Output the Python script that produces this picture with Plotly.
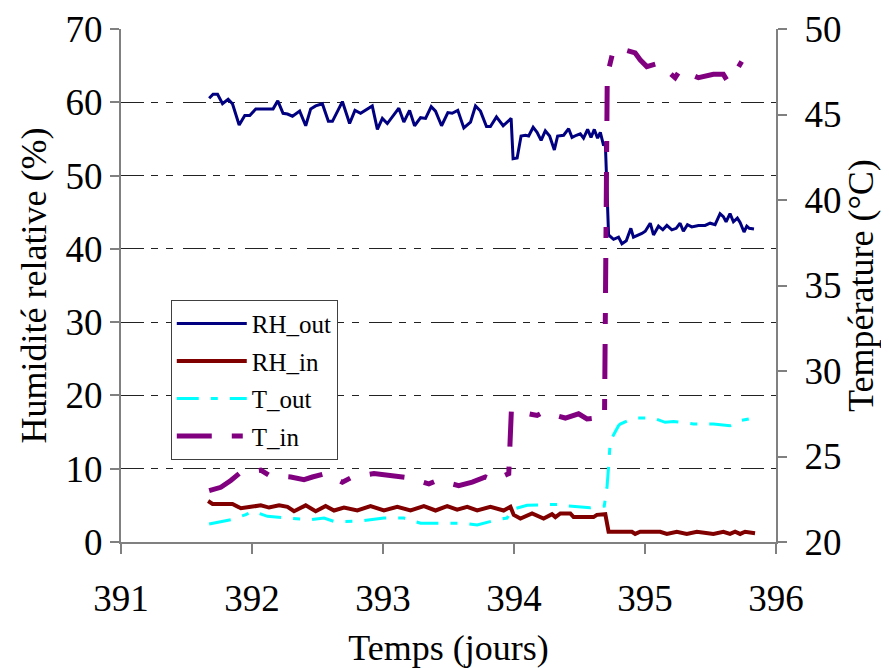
import plotly.graph_objects as go

# ---------------- data ----------------
t_rh_out = [391.673, 391.703, 391.737, 391.775, 391.818, 391.851, 391.902, 391.945, 391.983,
            392.029, 392.161, 392.197, 392.237, 392.271, 392.309, 392.364, 392.410, 392.448,
            392.486, 392.537, 392.583, 392.614, 392.690, 392.745, 392.786, 392.829, 392.918,
            392.957, 392.995, 393.033, 393.121, 393.159, 393.203, 393.241, 393.287, 393.325,
            393.368, 393.401, 393.447, 393.495, 393.528, 393.571, 393.617, 393.668, 393.706,
            393.744, 393.790, 393.820, 393.866, 393.917, 393.978, 393.993, 394.024, 394.054,
            394.087, 394.112, 394.146, 394.176, 394.207, 394.239, 394.272, 394.308, 394.333,
            394.379, 394.417, 394.443, 394.476, 394.506, 394.531, 394.562, 394.588, 394.613,
            394.638, 394.659, 394.684, 394.697, 394.722, 394.760, 394.798, 394.824, 394.857,
            394.892, 394.912, 394.943, 394.976, 395.002, 395.040, 395.065, 395.103, 395.136,
            395.167, 395.205, 395.238, 395.268, 395.293, 395.324, 395.357, 395.408, 395.459,
            395.497, 395.535, 395.573, 395.598, 395.619, 395.649, 395.675, 395.705, 395.726,
            395.756, 395.777, 395.796, 395.832]
rh_out = [60.55, 61.1, 61.1, 59.8, 60.4, 59.8, 56.9, 58.2, 58.2,
          59.1, 59.1, 60.2, 58.5, 58.4, 58.1, 58.8, 56.8, 59.1,
          59.5, 59.8, 57.4, 57.4, 60.1, 57.1, 58.9, 58.5, 59.5,
          56.3, 57.8, 57.1, 59.2, 57.3, 58.9, 56.8, 57.9, 57.8,
          59.4, 58.8, 56.8, 58.6, 58.5, 58.9, 56.5, 57.3, 59.5,
          58.8, 56.7, 56.7, 58.0, 56.8, 57.8, 52.3, 52.4, 55.4,
          55.5, 55.4, 56.6, 55.9, 54.8, 56.1, 55.4, 53.5, 55.4,
          55.5, 56.4, 55.2, 55.5, 55.7, 55.1, 56.3, 55.2, 56.3,
          55.1, 55.9, 54.1, 54.5, 41.9, 41.3, 41.6, 40.7, 41.1,
          42.8, 41.6, 41.8, 42.1, 42.4, 43.5, 41.9, 43.1, 42.6,
          43.2, 42.6, 42.8, 43.5, 42.4, 43.3, 43.0, 43.2, 43.2,
          43.5, 43.3, 44.8, 44.4, 43.7, 44.8, 43.7, 44.2, 43.6,
          42.3, 43.1, 42.8, 42.7]

t_rh_in = [391.665, 391.699, 391.851, 391.915, 391.991, 392.067, 392.130, 392.207, 392.271,
           392.321, 392.410, 392.486, 392.562, 392.626, 392.702, 392.804, 392.905, 393.007,
           393.109, 393.210, 393.312, 393.401, 393.490, 393.566, 393.643, 393.719, 393.820,
           393.921, 393.973, 393.998, 394.049, 394.138, 394.226, 394.290, 394.316, 394.354,
           394.430, 394.455, 394.607, 394.633, 394.697, 394.722, 394.900, 394.925, 394.963,
           395.116, 395.167, 395.243, 395.319, 395.396, 395.522, 395.598, 395.649, 395.688,
           395.726, 395.764, 395.840]
rh_in = [5.6, 5.2, 5.2, 4.6, 4.8, 5.0, 4.7, 5.0, 4.8,
         4.2, 5.0, 4.2, 4.9, 4.3, 4.7, 4.3, 4.9, 4.3,
         4.8, 4.3, 4.9, 4.3, 4.9, 4.4, 4.8, 4.3, 4.8,
         4.3, 4.8, 3.7, 3.2, 3.9, 3.2, 3.8, 3.4, 3.9,
         3.9, 3.4, 3.4, 3.7, 3.8, 1.4, 1.4, 1.1, 1.4,
         1.4, 1.1, 1.4, 1.1, 1.4, 1.1, 1.4, 1.1, 1.4,
         1.1, 1.4, 1.2]

t_t_out = [391.673, 391.838, 391.953, 392.004, 392.118, 392.283, 392.397, 392.448, 392.550,
           392.626, 392.715, 392.854, 393.007, 393.159, 393.287, 393.414, 393.617, 393.719,
           393.871, 393.947, 393.985, 394.100, 394.252, 394.341, 394.417, 394.582, 394.689,
           394.710, 394.722, 394.735, 394.798, 394.811, 394.912, 395.065, 395.154, 395.217,
           395.370, 395.522, 395.649, 395.726, 395.827]
t_out = [21.05, 21.3, 21.6, 21.8, 21.5, 21.4, 21.3, 21.3, 21.4,
         21.2, 21.2, 21.25, 21.4, 21.4, 21.1, 21.1, 21.1, 21.0,
         21.3, 21.4, 21.9, 22.15, 22.2, 22.2, 22.1, 22.0, 22.1,
         23.2, 24.4, 25.9, 26.8, 26.9, 27.25, 27.25, 27.0, 27.05,
         26.9, 26.9, 26.8, 27.1, 27.25]

t_t_in = [391.673, 391.762, 391.838, 391.902, 392.067, 392.130, 392.296, 392.397, 392.461,
          392.562, 392.690, 392.766, 392.931, 393.033, 393.197, 393.350, 393.414, 393.578,
          393.681, 393.782, 393.845, 393.960, 393.973, 393.980, 394.176, 394.226, 394.392,
          394.493, 394.557, 394.646, 394.691, 394.712, 394.750, 394.786, 394.925, 394.963,
          395.014, 395.103, 395.230, 395.268, 395.408, 395.522, 395.598, 395.630, 395.700,
          395.738]
t_in = [23.0, 23.2, 23.6, 24.0, 24.2, 23.9, 23.8, 23.65, 23.8,
        24.0, 23.5, 23.8, 24.0, 23.9, 23.75, 23.4, 23.6, 23.3,
        23.5, 23.8, 23.6, 24.0, 25.7, 27.7, 27.4, 27.6, 27.25,
        27.5, 27.2, 27.3, 27.3, 47.3, 48.5, 48.9, 48.6, 48.2,
        47.8, 48.0, 47.15, 47.6, 47.15, 47.35, 47.35, 46.95, 47.6,
        48.1]

x_ticks = [391, 392, 393, 394, 395, 396]
rh_ticks = [0, 10, 20, 30, 40, 50, 60, 70]
temp_ticks = [20, 25, 30, 35, 40, 45, 50]

FONT = "Liberation Serif, Times New Roman, serif"
AXIS_GRAY = "#808080"
TICK_SIZE = 37
TITLE_SIZE = 36

fig = go.Figure()
fig.add_trace(go.Scatter(x=t_rh_out, y=rh_out, name="RH_out", mode="lines",
                         line=dict(color="#000080", width=3), legendgroup="a"))
fig.add_trace(go.Scatter(x=t_rh_in, y=rh_in, name="RH_in", mode="lines",
                         line=dict(color="#800000", width=4), legendgroup="b"))
fig.add_trace(go.Scatter(x=t_t_out, y=t_out, name="T_out", mode="lines", yaxis="y2",
                         line=dict(color="#00FFFF", width=3, dash="22px,12px,7px,12px"),
                         legendgroup="c"))
fig.add_trace(go.Scatter(x=t_t_in, y=t_in, name="T_in", mode="lines", yaxis="y2",
                         line=dict(color="#800080", width=5, dash="35px,20px,11px,20px"),
                         legendgroup="d"))

# the page body adds an 8px offset, so the figure is 8px smaller than the window
fig.update_layout(
    width=881, height=660,
    margin=dict(l=113, r=113, t=21, b=126, autoexpand=False),
    paper_bgcolor="white", plot_bgcolor="white",
    font=dict(family=FONT, color="black", size=TICK_SIZE),
    showlegend=True,
    legend=dict(x=0.076, y=0.472, xanchor="left", yanchor="top",
                bgcolor="white", bordercolor="#404040", borderwidth=1,
                font=dict(family=FONT, size=25), itemwidth=70,
                tracegroupgap=2),
    xaxis=dict(range=[391, 396], tickvals=x_ticks, ticktext=[str(v) for v in x_ticks],
               showgrid=False, zeroline=False, showline=True, linecolor=AXIS_GRAY,
               linewidth=2, ticks="outside", ticklen=10, tickcolor=AXIS_GRAY, tickwidth=2,
               tickfont=dict(family=FONT, size=TICK_SIZE), ticklabelstandoff=13,
               ticklabeloverflow="allow", automargin=False,
               title=dict(text="Temps (jours)", font=dict(family=FONT, size=TITLE_SIZE),
                          standoff=16)),
    yaxis=dict(range=[0, 70], tickvals=rh_ticks, showgrid=True, gridcolor="#222222",
               gridwidth=1, griddash="23px,7px,7px,8px,7px,10px",
               zeroline=False, showline=True, linecolor=AXIS_GRAY, linewidth=2,
               ticks="outside", ticklen=9, tickcolor=AXIS_GRAY, tickwidth=2,
               tickfont=dict(family=FONT, size=TICK_SIZE), ticklabelstandoff=0,
               ticklabeloverflow="allow", automargin=False,
               title=dict(text="Humidité relative (%)",
                          font=dict(family=FONT, size=TITLE_SIZE), standoff=8)),
    yaxis2=dict(range=[20, 50], tickvals=temp_ticks, overlaying="y", side="right",
                showgrid=False, zeroline=False, showline=True, linecolor=AXIS_GRAY,
                linewidth=2, ticks="outside", ticklen=9, tickcolor=AXIS_GRAY, tickwidth=2,
                tickfont=dict(family=FONT, size=TICK_SIZE), ticklabelstandoff=10,
                ticklabeloverflow="allow", automargin=False,
                title=dict(text="Température (°C)",
                           font=dict(family=FONT, size=TITLE_SIZE), standoff=0)),
    yaxis3=dict(range=[0, 70], tickvals=rh_ticks, overlaying="y", side="left",
                showgrid=False, zeroline=False, showline=False, showticklabels=False,
                ticks="inside", ticklen=9, tickcolor=AXIS_GRAY, tickwidth=2,
                automargin=False),
    yaxis4=dict(range=[20, 50], tickvals=temp_ticks, overlaying="y", side="right",
                showgrid=False, zeroline=False, showline=False, showticklabels=False,
                ticks="inside", ticklen=9, tickcolor=AXIS_GRAY, tickwidth=2,
                automargin=False),
)

fig.write_html("out.html")
